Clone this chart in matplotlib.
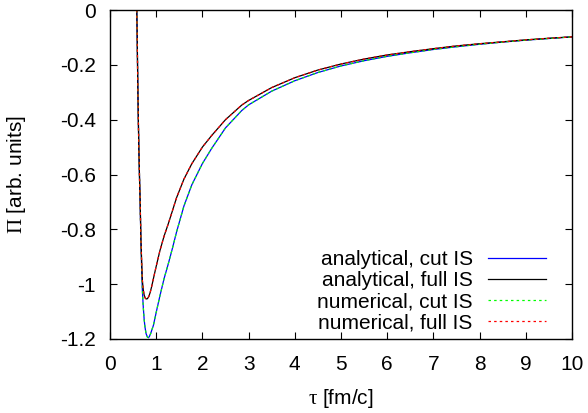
import matplotlib
matplotlib.use('Agg')
import matplotlib.pyplot as plt

plt.rcParams['font.family'] = ['Liberation Sans', 'DejaVu Sans']
plt.rcParams['mathtext.fontset'] = 'custom'
plt.rcParams['mathtext.rm'] = 'Liberation Serif'

# analytical solution, full IS (black)
tau_full = [0.58, 0.59, 0.60, 0.61, 0.625, 0.64, 0.65, 0.67, 0.69, 0.70, 0.72, 0.74,
            0.76, 0.78, 0.81, 0.84, 0.87, 0.90, 0.95, 1.0, 1.08, 1.17, 1.263, 1.35,
            1.44, 1.6, 1.77, 2.0, 2.2, 2.5, 2.85, 3.0, 3.5, 4.0, 4.5, 5.0, 5.5, 6.0,
            6.5, 7.0, 7.5, 8.0, 8.5, 9.0, 9.5, 10.0]
pi_full = [0.0, -0.12, -0.25, -0.37, -0.51, -0.62, -0.68, -0.84, -0.94, -0.985, -1.02, -1.04,
           -1.05, -1.054, -1.053, -1.045, -1.03, -1.01, -0.972, -0.935, -0.878, -0.825, -0.779, -0.733,
           -0.685, -0.617, -0.561, -0.50, -0.458, -0.40, -0.347, -0.33, -0.283, -0.247, -0.219, -0.197, -0.179, -0.164,
           -0.152, -0.141, -0.131, -0.123, -0.116, -0.109, -0.103, -0.098]

# analytical solution, cut IS (blue)
tau_cut = [0.58, 0.59, 0.60, 0.61, 0.625, 0.64, 0.65, 0.67, 0.69, 0.70, 0.72, 0.74,
           0.757, 0.78, 0.81, 0.83, 0.85, 0.88, 0.91, 0.94, 1.0, 1.08, 1.17, 1.263,
           1.35, 1.44, 1.6, 1.77, 2.0, 2.2, 2.5, 2.85, 3.0, 3.5, 4.0, 4.5, 5.0, 5.5,
           6.0, 6.5, 7.0, 7.5, 8.0, 8.5, 9.0, 9.5, 10.0]
pi_cut = [0.0, -0.12, -0.25, -0.37, -0.51, -0.62, -0.68, -0.85, -0.97, -1.02, -1.083, -1.13,
          -1.156, -1.18, -1.193, -1.195, -1.192, -1.18, -1.165, -1.15, -1.103, -1.043, -0.98, -0.925,
          -0.87, -0.81, -0.715, -0.638, -0.56, -0.505, -0.43, -0.367, -0.346, -0.296, -0.258, -0.228, -0.204, -0.185,
          -0.169, -0.156, -0.144, -0.134, -0.125, -0.117, -0.110, -0.104, -0.098]

# numerical solutions lie on top of the analytical ones
tau_num_cut, pi_num_cut = tau_cut, pi_cut
tau_num_full, pi_num_full = tau_full, pi_full

fig = plt.figure(figsize=(5.88, 4.13), dpi=100)
ax = fig.add_axes([110/588, 74/413, 462/588, 329/413])

ax.plot(tau_cut, pi_cut, color='#0000ff', lw=0.9, label='analytical, cut IS')
ax.plot(tau_full, pi_full, color='black', lw=0.9, label='analytical, full IS')
ax.plot(tau_num_cut, pi_num_cut, color='#00ff00', lw=0.9, dashes=(2, 2.5), label='numerical, cut IS')
ax.plot(tau_num_full, pi_num_full, color='#ff0000', lw=0.9, dashes=(2, 2.5), label='numerical, full IS')

ax.set_xlim(0, 10)
ax.set_ylim(-1.2, 0)
ax.set_xticks(range(0, 11))
yt = [0, -0.2, -0.4, -0.6, -0.8, -1, -1.2]
ax.set_yticks(yt)
ax.set_yticklabels(['0', '-0.2', '-0.4', '-0.6', '-0.8', '-1', '-1.2'])
ax.tick_params(direction='in', top=True, right=True, length=5, width=0.8,
               labelsize=15)
ax.tick_params(axis='x', pad=11.5)
ax.tick_params(axis='y', pad=10)
for s in ax.spines.values():
    s.set_linewidth(1.0)

ax.set_xlabel(r'$\mathrm{\tau}$ [fm/c]', fontsize=15)
ax.set_ylabel(r'$\mathrm{\Pi}$ [arb. units]', fontsize=15)
ax.xaxis.set_label_coords(0.5, -0.146)
ax.yaxis.set_label_coords(-0.177, 0.5)

ax.legend(loc='lower right', bbox_to_anchor=(0.944, 0.02), frameon=False,
          markerfirst=False, fontsize=15, handlelength=2.8, handletextpad=0.72,
          labelspacing=0.1, borderaxespad=0, borderpad=0)

fig.savefig('out.png', dpi=100)
